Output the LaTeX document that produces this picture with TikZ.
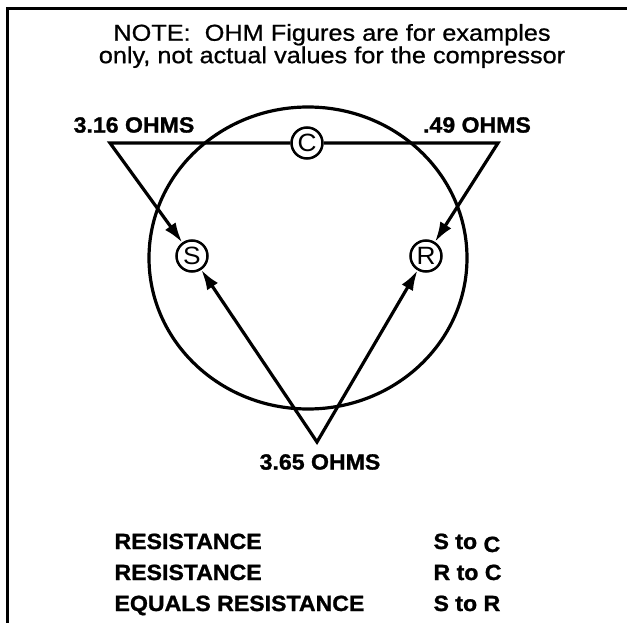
\documentclass[tikz,border=0pt]{standalone}
\usepackage{fontspec}
\setmainfont{Liberation Sans}[FakeStretch=1.05, BoldFeatures={FakeBold=1.2}]
\newfontfamily\notefont{Liberation Sans}[FakeStretch=1.1, FakeBold=0.8]
\usetikzlibrary{arrows.meta}

\begin{document}
\begin{tikzpicture}[x=1pt, y=-1pt,
  terminal/.style={circle, draw, line width=2.5pt, minimum size=31pt, inner sep=0pt,
    fill=white, font=\fontsize{25}{25}\selectfont},
  wire/.style={line width=3.2pt, line join=miter},
  lead/.style={wire, -{Latex[length=20pt,width=13pt]}},
  ohms/.style={font=\fontsize{22}{22}\selectfont\bfseries},
  row/.style={anchor=base west, font=\fontsize{22}{22}\selectfont\bfseries}]

  \useasboundingbox (0,0) rectangle (627,623);

  % frame
  \draw[line width=3pt] (7,623) -- (7,9) -- (627,9);

  % note
  \node[align=center, font=\notefont\fontsize{23}{19}\selectfont] (note) at (332,46)
      {NOTE:\ \ OHM Figures are for examples\\only, not actual values for the compressor};

  % plug outline
  \draw[wire] (308,258) ellipse [x radius=159pt, y radius=151pt];

  % terminals
  \node[terminal] (C) at (307,143) {C};
  \node[terminal] (S) at (192,256) {S};
  \node[terminal] (R) at (426,256) {R};

  % triangle corners
  \coordinate (sc) at (110,143);
  \coordinate (rc) at (498,143);
  \coordinate (sr) at (317,442);

  \draw[lead] (C) -- (sc) -- (S);
  \draw[lead] (C) -- (rc) -- (R);
  \draw[lead, {Latex[length=20pt,width=13pt]}-{Latex[length=20pt,width=13pt]}] (S) -- (sr) -- (R);

  % readings
  \node[ohms] (sc-val) at (134,125) {3.16 OHMS};
  \node[ohms] (rc-val) at (477,125) {.49 OHMS};
  \node[ohms] (sr-val) at (320,462) {3.65 OHMS};

  % legend
  \foreach \what/\pair [count=\i] in {
      RESISTANCE/{S to \raisebox{-3pt}{C}},
      RESISTANCE/{R to C},
      EQUALS RESISTANCE/{S to R}}{
    \node[row] (what\i) at (111, 518+31*\i) {\what};
    \node[row] (pair\i) at (430, 518+31*\i) {\pair};
  }

\end{tikzpicture}
\end{document}
